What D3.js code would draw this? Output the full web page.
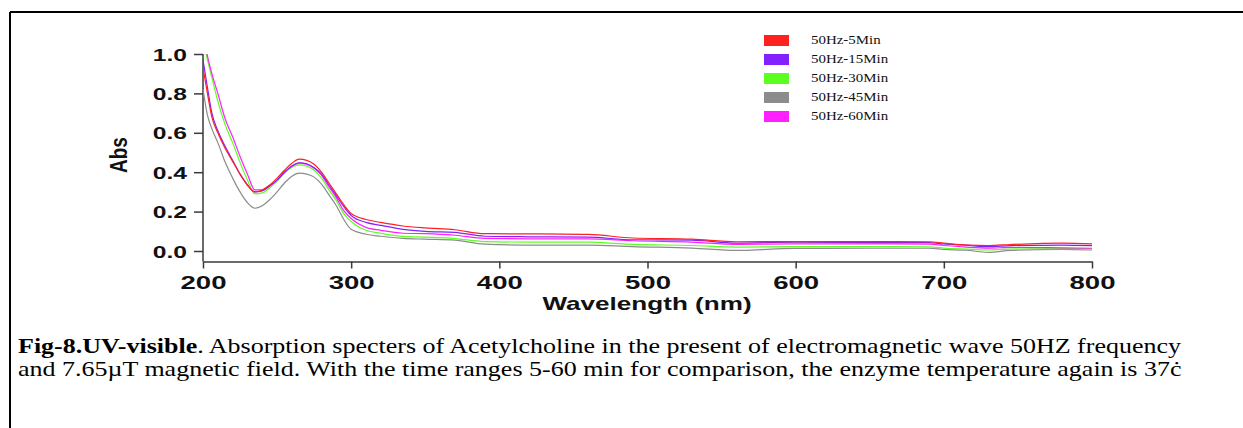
<!DOCTYPE html>
<html>
<head>
<meta charset="utf-8">
<script src="https://cdn.jsdelivr.net/npm/d3@7"></script>
<style>
  body { margin: 0; background: #fff; }
  svg { display: block; }
</style>
</head>
<body>
<svg id="chart" width="1243" height="428"></svg>
<script>
// wavelengths (nm) shared by every series
const wavelengths = [200, 203, 206, 210, 215, 220, 225, 230, 235, 240, 245, 250, 255, 260, 265, 270, 275, 280, 285, 290, 295, 300,
  310, 320, 335, 350, 370, 390, 420, 460, 490, 530, 560, 600, 650, 690, 700, 715, 730, 745, 780, 800];

// absorbance
const abs5 = [0.93, 0.80, 0.68, 0.60, 0.52, 0.455, 0.39, 0.335, 0.30, 0.31, 0.335, 0.37, 0.41, 0.445, 0.466, 0.46, 0.44, 0.40, 0.345, 0.29, 0.235, 0.19,
  0.16, 0.145, 0.127, 0.117, 0.108, 0.088, 0.087, 0.084, 0.066, 0.06, 0.047, 0.048, 0.048, 0.047, 0.04, 0.03, 0.028, 0.033, 0.04, 0.036];
const abs15 = [0.97, 0.83, 0.70, 0.61, 0.53, 0.46, 0.39, 0.335, 0.30, 0.305, 0.33, 0.36, 0.40, 0.432, 0.448, 0.443, 0.423, 0.39, 0.335, 0.28, 0.225, 0.18,
  0.145, 0.13, 0.11, 0.10, 0.095, 0.075, 0.072, 0.07, 0.057, 0.055, 0.04, 0.045, 0.043, 0.043, 0.036, 0.03, 0.022, 0.027, 0.03, 0.027];
const abs30 = [1.08, 0.97, 0.88, 0.76, 0.64, 0.55, 0.45, 0.36, 0.29, 0.295, 0.32, 0.355, 0.395, 0.425, 0.437, 0.43, 0.41, 0.37, 0.31, 0.255, 0.19, 0.15,
  0.105, 0.09, 0.074, 0.07, 0.063, 0.048, 0.045, 0.045, 0.034, 0.028, 0.02, 0.022, 0.022, 0.021, 0.015, 0.01, 0.006, 0.01, 0.012, 0.012];
const abs45 = [0.82, 0.69, 0.62, 0.55, 0.45, 0.37, 0.30, 0.245, 0.217, 0.23, 0.26, 0.30, 0.345, 0.38, 0.395, 0.39, 0.375, 0.34, 0.285, 0.23, 0.16, 0.11,
  0.085, 0.075, 0.064, 0.06, 0.055, 0.035, 0.03, 0.03, 0.022, 0.015, 0.003, 0.013, 0.014, 0.014, 0.008, 0.004, -0.007, 0.003, 0.008, 0.005];
const abs60 = [1.12, 0.99, 0.90, 0.80, 0.67, 0.58, 0.48, 0.39, 0.31, 0.31, 0.33, 0.36, 0.40, 0.43, 0.446, 0.44, 0.42, 0.385, 0.325, 0.27, 0.205, 0.165,
  0.12, 0.105, 0.09, 0.088, 0.08, 0.064, 0.062, 0.062, 0.052, 0.045, 0.034, 0.036, 0.036, 0.035, 0.028, 0.02, 0.015, 0.018, 0.016, 0.014];

const seriesNames = ["50Hz-5Min", "50Hz-15Min", "50Hz-30Min", "50Hz-45Min", "50Hz-60Min"];
const seriesColors = ["#ff2020", "#8420ff", "#5cff20", "#8c8c8c", "#ff20ff"];
const seriesValues = [abs5, abs15, abs30, abs45, abs60];

const xTicks = [200, 300, 400, 500, 600, 700, 800];
const yTicks = [0, 0.2, 0.4, 0.6, 0.8, 1.0];

const svg = d3.select("#chart");

// frame: top and left rules only
svg.append("line").attr("x1", 10).attr("x2", 1243).attr("y1", 12).attr("y2", 12)
  .attr("stroke", "#000").attr("stroke-width", 2);
svg.append("line").attr("x1", 10).attr("x2", 10).attr("y1", 12).attr("y2", 428)
  .attr("stroke", "#000").attr("stroke-width", 2);

// scales
const xScale = d3.scaleLinear().domain([200, 800]).range([203, 1092]);
const yScale = d3.scaleLinear().domain([0, 1]).range([251, 54]);
const xAxisY = 261.5;
const stretch = 1.45; // the chart picture is widened horizontally
const axisColor = "#3a3a3a";

// x axis
const xAxis = d3.axisBottom(xScale).tickValues(xTicks).tickFormat(d3.format("d"))
  .tickSizeInner(7).tickSizeOuter(0);
const gx = svg.append("g").attr("transform", `translate(0,${xAxisY})`).call(xAxis);
gx.select(".domain").attr("stroke", axisColor).attr("stroke-width", 1.5);
gx.selectAll(".tick line").attr("stroke", axisColor).attr("stroke-width", 1.5);
gx.selectAll(".tick text")
  .attr("font-family", "Liberation Sans, Arial, sans-serif")
  .attr("font-weight", "bold").attr("font-size", 19).attr("fill", "#111")
  .attr("y", 0).attr("dy", 0)
  .attr("transform", `translate(0,27) scale(${stretch},1)`);

// y axis
const yAxis = d3.axisLeft(yScale).tickValues(yTicks).tickFormat(d3.format(".1f"))
  .tickSizeInner(9).tickSizeOuter(0);
const gy = svg.append("g").attr("transform", "translate(203,0)").call(yAxis);
gy.select(".domain").remove();
gy.append("line").attr("x1", 0).attr("x2", 0).attr("y1", yScale(1)).attr("y2", xAxisY)
  .attr("stroke", axisColor).attr("stroke-width", 1.5);
gy.selectAll(".tick line").attr("stroke", axisColor).attr("stroke-width", 1.5);
gy.selectAll(".tick text")
  .attr("font-family", "Liberation Sans, Arial, sans-serif")
  .attr("font-weight", "bold").attr("font-size", 17).attr("fill", "#111")
  .attr("x", 0).attr("dy", "0.36em")
  .attr("transform", `translate(-16,0) scale(${stretch},1)`);

// axis titles
svg.append("text")
  .attr("transform", `translate(647,310) scale(${stretch},1)`)
  .attr("text-anchor", "middle")
  .attr("font-family", "Liberation Sans, Arial, sans-serif")
  .attr("font-weight", "bold").attr("font-size", 18).attr("fill", "#111")
  .text("Wavelength (nm)");

svg.append("text")
  .attr("transform", `translate(127,155) scale(1.3,1) rotate(-90)`)
  .attr("text-anchor", "middle")
  .attr("font-family", "Liberation Sans, Arial, sans-serif")
  .attr("font-weight", "bold").attr("font-size", 19).attr("fill", "#111")
  .text("Abs");

// clip at Abs = 1.0
svg.append("clipPath").attr("id", "plot-clip")
  .append("rect").attr("x", 203).attr("y", yScale(1)).attr("width", 900).attr("height", 220);

const line = d3.line()
  .x((d, i) => xScale(wavelengths[i]))
  .y(d => yScale(d))
  .curve(d3.curveMonotoneX);

// draw in order so red ends up on top like the original
const drawOrder = [3, 2, 4, 1, 0];
svg.append("g").attr("clip-path", "url(#plot-clip)")
  .selectAll("path")
  .data(drawOrder)
  .join("path")
    .attr("d", k => line(seriesValues[k]))
    .attr("fill", "none")
    .attr("stroke", k => seriesColors[k])
    .attr("stroke-width", 1.2);

// legend
const legend = svg.append("g").selectAll("g")
  .data(seriesNames)
  .join("g")
    .attr("transform", (d, i) => `translate(764,${35 + i * 19})`);

legend.append("rect")
  .attr("width", 25).attr("height", 11)
  .attr("fill", (d, i) => seriesColors[i]);

legend.append("text")
  .attr("transform", `translate(47,9) scale(1.3,1)`)
  .attr("font-family", "Liberation Serif, Times New Roman, serif")
  .attr("font-size", 11.5).attr("fill", "#111")
  .text(d => d);

// caption (also widened in the original)
const caption = svg.append("text")
  .attr("transform", "translate(18,0) scale(1.3,1)")
  .attr("font-family", "Liberation Serif, Times New Roman, serif")
  .attr("font-size", 20).attr("fill", "#000");

const line1 = caption.append("tspan").attr("x", 0).attr("y", 353);
line1.append("tspan").attr("font-weight", "bold").text("Fig-8.UV-visible");
line1.append("tspan").text(". Absorption specters of Acetylcholine in the present of electromagnetic wave 50HZ frequency");

caption.append("tspan").attr("x", 0).attr("y", 376)
  .text("and 7.65\u00b5T magnetic field. With the time ranges 5-60 min for comparison, the enzyme temperature again is 37\u010b");
</script>
</body>
</html>
